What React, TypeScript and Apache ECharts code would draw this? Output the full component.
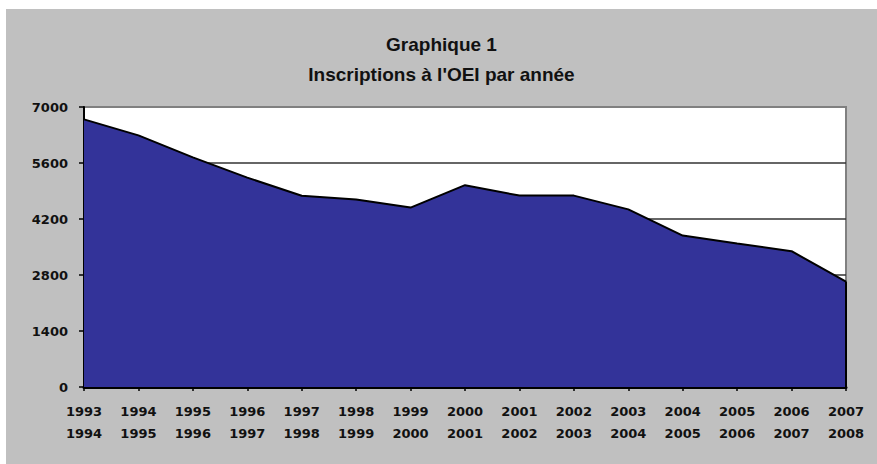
import React, { useEffect, useRef } from "react";
import * as echarts from "echarts";

const startYears = ["1993", "1994", "1995", "1996", "1997", "1998", "1999", "2000", "2001", "2002", "2003", "2004", "2005", "2006", "2007"];
const endYears = ["1994", "1995", "1996", "1997", "1998", "1999", "2000", "2001", "2002", "2003", "2004", "2005", "2006", "2007", "2008"];
const enrolments = [6690, 6290, 5740, 5235, 4780, 4685, 4485, 5045, 4785, 4785, 4440, 3785, 3585, 3395, 2635];
const yTicks = { min: 0, max: 7000, interval: 1400 };
const titleLine1 = "Graphique 1";
const titleLine2 = "Inscriptions à l'OEI par année";

const categories = startYears.map((s, i) => s + "\n" + endYears[i]);

export default function App() {
  const ref = useRef<HTMLDivElement>(null);
  useEffect(() => {
    if (!ref.current) return;
    const chart = echarts.init(ref.current, undefined, { renderer: "svg" });
    const last = categories.length - 1;
    const titleFont = { fontFamily: "Liberation Sans, Arial, sans-serif", fontSize: 19, fontWeight: "bold", color: "#111" };
    chart.setOption({
      animation: false,
      backgroundColor: "#C0C0C0",
      title: [
        { text: titleLine1, left: "center", top: 26, padding: 0, textStyle: titleFont },
        { text: titleLine2, left: "center", top: 56, padding: 0, textStyle: titleFont },
      ],
      grid: {
        left: 78,
        top: 98,
        width: 762,
        height: 280,
        show: true,
        backgroundColor: "#FFFFFF",
        borderColor: "#808080",
        borderWidth: 2,
        containLabel: false,
      },
      xAxis: {
        type: "category",
        data: categories,
        boundaryGap: false,
        axisLine: { show: true, lineStyle: { color: "#000", width: 3 } },
        axisTick: { show: true, length: 4, lineStyle: { color: "#000", width: 1.5 } },
        axisLabel: {
          interval: 0,
          margin: 13,
          lineHeight: 22,
          fontFamily: "DejaVu Sans, sans-serif",
          fontWeight: "bold",
          fontSize: 13,
          color: "#111",
        },
        splitLine: { show: false },
      },
      yAxis: {
        type: "value",
        min: yTicks.min,
        max: yTicks.max,
        interval: yTicks.interval,
        axisLine: { show: true, lineStyle: { color: "#000", width: 2 } },
        axisTick: { show: true, length: 5, lineStyle: { color: "#000", width: 1.5 } },
        axisLabel: {
          margin: 16,
          fontFamily: "DejaVu Sans, sans-serif",
          fontWeight: "bold",
          fontSize: 13,
          color: "#111",
          formatter: (v: number) => String(v),
        },
        splitLine: {
          show: true,
          lineStyle: { color: ["#333", "#333", "#333", "#333", "#333", "#808080"], width: 1.5 },
        },
      },
      series: [
        {
          type: "line",
          data: enrolments,
          symbol: "none",
          lineStyle: { color: "#000", width: 2 },
          areaStyle: { color: "#333399", opacity: 1 },
          markLine: {
            silent: true,
            symbol: "none",
            label: { show: false },
            lineStyle: { color: "#000", width: 2, type: "solid" },
            data: [[{ coord: [categories[last], 0] }, { coord: [categories[last], enrolments[last]] }]],
          },
        },
      ],
    });
    return () => chart.dispose();
  }, []);
  return (
    <div
      ref={ref}
      style={{ position: "absolute", left: 6, top: 9, width: 871, height: 455 }}
    />
  );
}
